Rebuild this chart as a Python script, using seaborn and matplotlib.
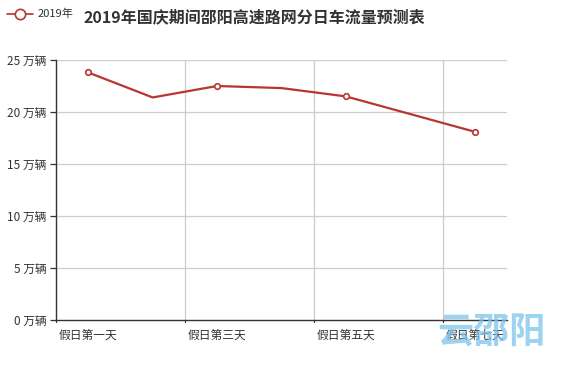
import matplotlib
matplotlib.use("Agg")
import matplotlib.pyplot as plt
import seaborn as sns
import pandas as pd
import numpy as np

days = ["假日第一天", "假日第二天", "假日第三天", "假日第四天", "假日第五天", "假日第六天", "假日第七天"]
flow = [23.8, 21.4, 22.5, 22.3, 21.5, 19.8, 18.1]
y_ticks = [0, 5, 10, 15, 20, 25]
series_name = "2019年"
title = "2019年国庆期间邵阳高速路网分日车流量预测表"

sns.set_style("white")
plt.rcParams["font.family"] = ["Noto Sans CJK SC", "DejaVu Sans"]

line_color = "#b83531"
df = pd.DataFrame({"pos": np.arange(len(days)), "day": days, "flow": flow})

fig = plt.figure(figsize=(5.63, 3.8), dpi=100)
ax = fig.add_axes([56 / 563, 60 / 380, 451 / 563, 260 / 380])

sns.lineplot(data=df, x="pos", y="flow", ax=ax, color=line_color, linewidth=1.6)
# echarts only shows symbols on labelled categories
shown = df.iloc[::2]
ax.scatter(shown["pos"], shown["flow"], s=16, facecolor="white",
           edgecolor=line_color, linewidth=1.2, zorder=5)

ax.set_xlim(-0.5, len(days) - 0.5)
ax.set_ylim(0, 25)
ax.set_yticks(y_ticks)
ax.set_yticklabels([f"{v} 万辆" for v in y_ticks], fontsize=8.5, color="#333333")
ax.set_xticks(df["pos"].iloc[::2])
ax.set_xticklabels(df["day"].iloc[::2], fontsize=8.5, color="#333333")
ax.set_xlabel("")
ax.set_ylabel("")

# split lines on category boundaries
bounds = np.arange(-0.5, len(days), 2)
for b in bounds[1:]:
    ax.axvline(b, color="#cccccc", linewidth=0.9, zorder=0)
for v in y_ticks[1:]:
    ax.axhline(v, color="#cccccc", linewidth=0.9, zorder=0)
ax.tick_params(axis="x", length=0, pad=6)
ax.tick_params(axis="y", length=4, width=0.9, color="#333333", left=True, pad=3)
for b in bounds:
    ax.plot([b, b], [0, -0.18], color="#333333", linewidth=0.9, clip_on=False)

for s in ["top", "right"]:
    ax.spines[s].set_visible(False)
for s in ["left", "bottom"]:
    ax.spines[s].set_color("#333333")
    ax.spines[s].set_linewidth(1.0)

# overlay in pixel coords for legend, title, watermark
top = fig.add_axes([0, 0, 1, 1], facecolor="none")
top.set_axis_off()
top.set_xlim(0, 563)
top.set_ylim(380, 0)
top.plot([7, 33], [14, 14], color=line_color, linewidth=1.2)
top.scatter([20], [14], s=55, facecolor="white", edgecolor=line_color, linewidth=1.2, zorder=3)
top.text(38, 14, series_name, fontsize=8, color="#333333", va="center", ha="left")
top.text(254, 17, title, fontsize=11.5, fontweight="bold", color="#333333",
         va="center", ha="center")
top.text(491, 333, "云邵阳", fontsize=26, fontweight="bold", color="#7cc4ec",
         alpha=0.75, va="center", ha="center")

fig.savefig("out.png", dpi=100)
